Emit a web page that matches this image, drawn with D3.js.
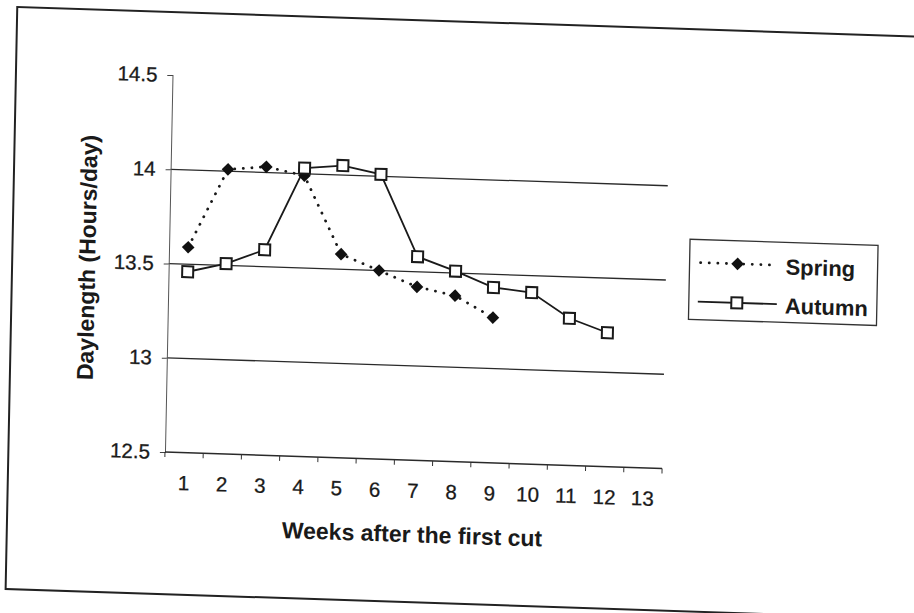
<!DOCTYPE html>
<html>
<head>
<meta charset="utf-8">
<script src="https://cdn.jsdelivr.net/npm/d3@7"></script>
<style>
  body { margin: 0; background: #fff; }
  text { font-family: "Liberation Sans", Arial, sans-serif; fill: #1a1a1a; }
</style>
</head>
<body>
<div id="chart"></div>
<script>
// daylength after the first cut, spring vs autumn

var weeks  = ["1","2","3","4","5","6","7","8","9","10","11","12","13"];
var spring = [13.59, 14.01, 14.03, 13.99, 13.58, 13.50, 13.42, 13.38, 13.27];
var autumn = [13.46, 13.51, 13.59, 14.03, 14.05, 14.01, 13.58, 13.51, 13.43, 13.41, 13.28, 13.21];
var yTicks = [12.5, 13, 13.5, 14, 14.5];
var gridVals = [13, 13.5, 14];

var width = 914, height = 613;
var plotLeft = 172.5, bandW = 38.24;
var plotTop = 75, plotBottom = 452;

var svg = d3.select("#chart").append("svg")
	.attr("width", width)
	.attr("height", height);

// the scanned page is a little skewed, so draw everything in a tilted frame
var g = svg.append("g")
	.attr("transform", "translate(170,75) matrix(1,0.033,-0.02,1,0,0) translate(-170,-75)");

// outer frame
g.append("rect")
	.attr("x", 16).attr("y", 12)
	.attr("width", 1000).attr("height", 582)
	.attr("fill", "none")
	.attr("stroke", "#222")
	.attr("stroke-width", 2);

var x = d3.scaleBand().domain(weeks).range([plotLeft, plotLeft + bandW * weeks.length]);
var y = d3.scaleLinear().domain([12.5, 14.5]).range([plotBottom, plotTop]);
var cx = function(i) { return x(weeks[i]) + x.bandwidth() / 2; };

// gridlines
g.append("g").selectAll("line")
	.data(gridVals)
	.enter().append("line")
	.attr("x1", plotLeft).attr("x2", x.range()[1])
	.attr("y1", function(d) { return y(d); })
	.attr("y2", function(d) { return y(d); })
	.attr("stroke", "#2a2a2a")
	.attr("stroke-width", 1.3);

// y axis
var yAxis = g.append("g")
	.attr("transform", "translate(" + plotLeft + ",0)")
	.call(d3.axisLeft(y).tickValues(yTicks).tickSize(5).tickPadding(10)
		.tickFormat(function(d) { return d3.format("")(d); }));
yAxis.select(".domain").attr("stroke", "#555").attr("stroke-width", 1);
yAxis.selectAll(".tick line").attr("stroke", "#444");
yAxis.selectAll("text")
	.style("font-size", "20.5px")
	.style("font-family", "Liberation Sans, Arial, sans-serif")
	.attr("fill", "#1a1a1a")
	.attr("stroke", "#1a1a1a")
	.attr("stroke-width", 0.3);

// x axis: labels centred in categories, ticks between categories
var xAxis = g.append("g")
	.attr("transform", "translate(0," + plotBottom + ")")
	.call(d3.axisBottom(x).tickSize(0).tickPadding(23));
xAxis.select(".domain").remove();
xAxis.selectAll("text")
	.style("font-size", "20.5px")
	.style("font-family", "Liberation Sans, Arial, sans-serif")
	.attr("fill", "#1a1a1a")
	.attr("stroke", "#1a1a1a")
	.attr("stroke-width", 0.3);

g.append("line")
	.attr("x1", plotLeft).attr("x2", x.range()[1])
	.attr("y1", plotBottom).attr("y2", plotBottom)
	.attr("stroke", "#2a2a2a")
	.attr("stroke-width", 1.5);

var bounds = weeks.map(function(w) { return x(w); }).concat([x.range()[1]]);
g.append("g").selectAll("line")
	.data(bounds)
	.enter().append("line")
	.attr("x1", function(d) { return d; })
	.attr("x2", function(d) { return d; })
	.attr("y1", plotBottom).attr("y2", plotBottom + 5)
	.attr("stroke", "#333");

// axis titles
g.append("text")
	.attr("x", (x.range()[0] + x.range()[1]) / 2)
	.attr("y", 534)
	.attr("text-anchor", "middle")
	.style("font-size", "23px")
	.style("font-weight", "bold")
	.text("Weeks after the first cut");

g.append("text")
	.attr("transform", "translate(99,260) rotate(-90)")
	.attr("text-anchor", "middle")
	.style("font-size", "23px")
	.style("font-weight", "bold")
	.text("Daylength (Hours/day)");

// series
var line = d3.line()
	.x(function(d, i) { return cx(i); })
	.y(function(d) { return y(d); });

g.append("path")
	.datum(autumn)
	.attr("d", line)
	.attr("fill", "none")
	.attr("stroke", "#1a1a1a")
	.attr("stroke-width", 1.8);

g.append("path")
	.datum(spring)
	.attr("d", line)
	.attr("fill", "none")
	.attr("stroke", "#1a1a1a")
	.attr("stroke-width", 2.8)
	.attr("stroke-linecap", "round")
	.attr("stroke-dasharray", "0.1,8.5");

// excel style diamond: a square turned 45 degrees
var diamond = d3.symbol().type(d3.symbolSquare).size(80);

g.append("g").selectAll("path")
	.data(spring)
	.enter().append("path")
	.attr("d", diamond)
	.attr("transform", function(d, i) { return "translate(" + cx(i) + "," + y(d) + ") rotate(45)"; })
	.attr("fill", "#111");

g.append("g").selectAll("rect")
	.data(autumn)
	.enter().append("rect")
	.attr("x", function(d, i) { return cx(i) - 5.5; })
	.attr("y", function(d) { return y(d) - 5.5; })
	.attr("width", 11).attr("height", 11)
	.attr("fill", "#fff")
	.attr("stroke", "#1a1a1a")
	.attr("stroke-width", 2);

// legend
var legend = g.append("g");
legend.append("rect")
	.attr("x", 693).attr("y", 222)
	.attr("width", 188).attr("height", 80)
	.attr("fill", "#fff")
	.attr("stroke", "#333")
	.attr("stroke-width", 1.3);

legend.append("line")
	.attr("x1", 704).attr("x2", 779)
	.attr("y1", 245).attr("y2", 245)
	.attr("stroke", "#1a1a1a")
	.attr("stroke-width", 2.8)
	.attr("stroke-linecap", "round")
	.attr("stroke-dasharray", "0.1,8.5");
legend.append("path")
	.attr("d", diamond)
	.attr("transform", "translate(741,245) rotate(45)")
	.attr("fill", "#111");
legend.append("text")
	.attr("x", 789).attr("y", 254)
	.style("font-size", "22px")
	.style("font-weight", "bold")
	.text("Spring");

legend.append("line")
	.attr("x1", 702).attr("x2", 781)
	.attr("y1", 284).attr("y2", 284)
	.attr("stroke", "#1a1a1a")
	.attr("stroke-width", 1.8);
legend.append("rect")
	.attr("x", 735.5).attr("y", 278.5)
	.attr("width", 11).attr("height", 11)
	.attr("fill", "#fff")
	.attr("stroke", "#1a1a1a")
	.attr("stroke-width", 2);
legend.append("text")
	.attr("x", 789).attr("y", 293)
	.style("font-size", "22px")
	.style("font-weight", "bold")
	.text("Autumn");
</script>
</body>
</html>
